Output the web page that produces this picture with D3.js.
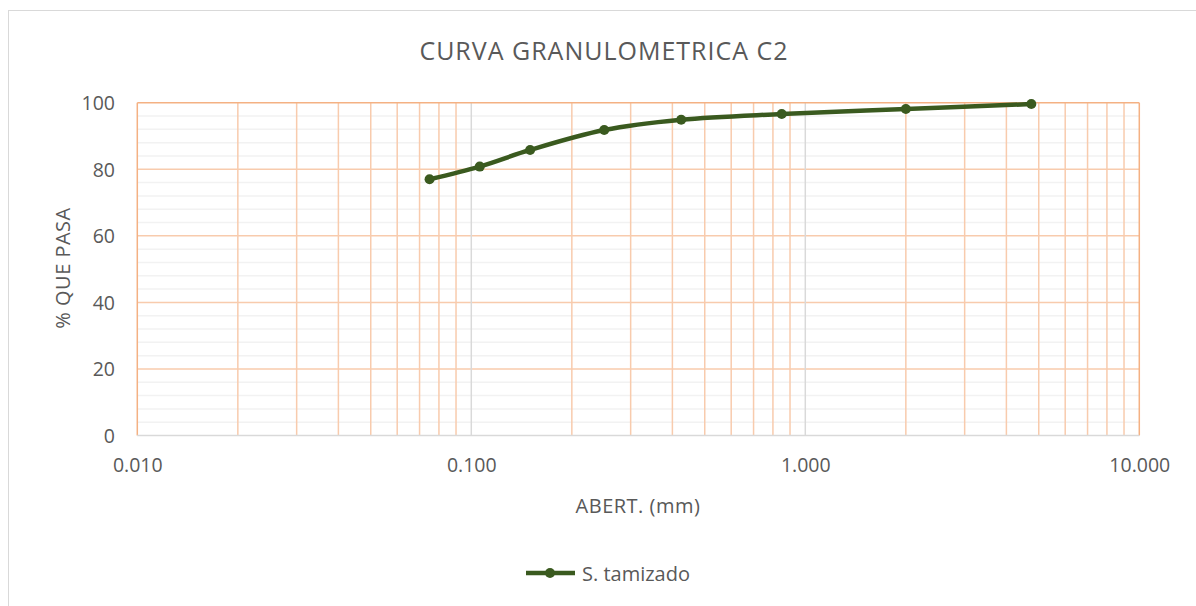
<!DOCTYPE html>
<html><head><meta charset="utf-8">
<script src="https://cdn.jsdelivr.net/npm/d3@7"></script>
<style>body{margin:0;background:#fff}svg{display:block}text{font-family:"Open Sans",Lato,sans-serif;fill:#595959}</style>
</head><body><svg id="c" width="1196" height="606"></svg>
<script>
const aberturas = [0.075, 0.106, 0.150, 0.250, 0.425, 0.850, 2.00, 4.75];
const pasa = [77.0, 80.8, 85.8, 91.8, 94.9, 96.6, 98.1, 99.6];
const xTicks = [0.01, 0.1, 1, 10];
const yTicks = [0, 20, 40, 60, 80, 100];
const title = "CURVA GRANULOMETRICA C2";
const xTitle = "ABERT. (mm)";
const yTitle = "% QUE PASA";
const seriesName = "S. tamizado";

const svg = d3.select("#c");
const L = 137.3, R = 1139.3, T = 102.7, B = 435.5;
const x = d3.scaleLog().domain([0.01, 10]).range([L, R]);
const y = d3.scaleLinear().domain([0, 100]).range([B, T]);

svg.append("rect").attr("x", 8.5).attr("y", 10.5).attr("width", 1200).attr("height", 600)
  .attr("fill", "#fff").attr("stroke", "#d9d9d9").attr("stroke-width", 1);

const g = svg.append("g");
const minorY = d3.range(0, 101, 4).filter(v => v % 20 !== 0);
g.selectAll(".mh").data(minorY).join("line")
  .attr("x1", L).attr("x2", R).attr("y1", d => y(d)).attr("y2", d => y(d))
  .attr("stroke", "#f2f2f2").attr("stroke-width", 1.5);
const minorX = [];
[0.01, 0.1, 1].forEach(d => { for (let k = 2; k <= 9; k++) minorX.push(d * k); });
g.selectAll(".mv").data(minorX).join("line")
  .attr("x1", d => x(d)).attr("x2", d => x(d)).attr("y1", T).attr("y2", B)
  .attr("stroke", "#f8cbad").attr("stroke-width", 1.5);
g.selectAll(".Mh").data(yTicks.filter(v => v > 0 && v < 100)).join("line")
  .attr("x1", L).attr("x2", R).attr("y1", d => y(d)).attr("y2", d => y(d))
  .attr("stroke", "#f8cbad").attr("stroke-width", 1.5);
g.selectAll(".Mv").data([0.1, 1]).join("line")
  .attr("x1", d => x(d)).attr("x2", d => x(d)).attr("y1", T).attr("y2", B)
  .attr("stroke", "#d9d9d9").attr("stroke-width", 1.5);
g.append("line").attr("x1", L).attr("x2", R).attr("y1", T).attr("y2", T).attr("stroke", "#f4b183").attr("stroke-width", 1.5);
g.append("line").attr("x1", L).attr("x2", L).attr("y1", T).attr("y2", B).attr("stroke", "#f4b183").attr("stroke-width", 1.5);
g.append("line").attr("x1", R).attr("x2", R).attr("y1", T).attr("y2", B).attr("stroke", "#f4b183").attr("stroke-width", 1.5);
g.append("line").attr("x1", L).attr("x2", R).attr("y1", B).attr("y2", B).attr("stroke", "#d9d9d9").attr("stroke-width", 1.5);

const yAxis = d3.axisLeft(y).tickValues(yTicks).tickSize(0).tickPadding(0).tickFormat(d3.format("d"));
const ya = svg.append("g").attr("transform", `translate(115,0)`).call(yAxis);
ya.select(".domain").remove();
ya.selectAll("text").attr("font-size", 19.5).attr("fill", "#595959").attr("dy", "0.35em")
  .style("font-family", '"Open Sans",Lato,sans-serif');

const xAxis = d3.axisBottom(x).tickValues(xTicks).tickSize(0).tickPadding(0).tickFormat(d3.format(".3f"));
const xa = svg.append("g").attr("transform", `translate(0,465)`).call(xAxis);
xa.select(".domain").remove();
xa.selectAll("text").attr("font-size", 19.5).attr("fill", "#595959").attr("dy", "0.35em")
  .style("font-family", '"Open Sans",Lato,sans-serif');

svg.append("text").attr("x", 604).attr("y", 50).attr("text-anchor", "middle").attr("dominant-baseline", "central")
  .attr("font-size", 25).attr("letter-spacing", 1).attr("font-weight", 400).text(title);
svg.append("text").attr("x", 638).attr("y", 505).attr("text-anchor", "middle").attr("dominant-baseline", "central")
  .attr("font-size", 20).attr("letter-spacing", 0.5).text(xTitle);
svg.append("text").attr("transform", "translate(62,268) rotate(-90)").attr("text-anchor", "middle").attr("dominant-baseline", "central")
  .attr("font-size", 20).attr("letter-spacing", 0.5).text(yTitle);

const data = aberturas.map((a, i) => ({ a, p: pasa[i] }));
const color = "#3a5a1f";
const line = d3.line().x(d => x(d.a)).y(d => y(d.p)).curve(d3.curveCatmullRom.alpha(0.5));
svg.append("path").datum(data).attr("d", line).attr("fill", "none").attr("stroke", color)
  .attr("stroke-width", 4.5).attr("stroke-linecap", "round");
svg.selectAll(".pt").data(data).join("circle").attr("cx", d => x(d.a)).attr("cy", d => y(d.p))
  .attr("r", 5).attr("fill", color);

svg.append("line").attr("x1", 526).attr("x2", 575).attr("y1", 573).attr("y2", 573).attr("stroke", color).attr("stroke-width", 4.5);
svg.append("circle").attr("cx", 550).attr("cy", 573).attr("r", 5).attr("fill", color);
svg.append("text").attr("x", 582).attr("y", 573).attr("dominant-baseline", "central").attr("font-size", 20).text(seriesName);
</script></body></html>
